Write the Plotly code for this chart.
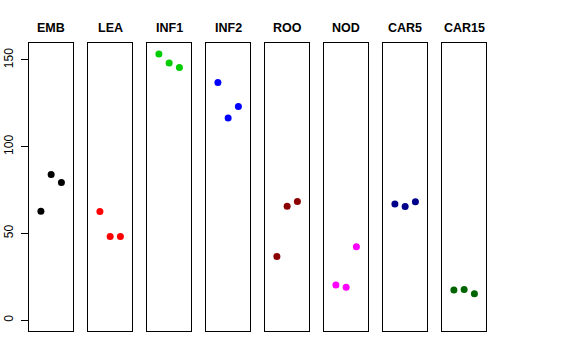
import plotly.graph_objects as go

categories = ["EMB", "LEA", "INF1", "INF2", "ROO", "NOD", "CAR5", "CAR15"]
emb = [62.8, 84.0, 79.4]
lea = [62.6, 48.2, 48.2]
inf1 = [153.5, 148.3, 145.6]
inf2 = [137.0, 116.6, 123.1]
roo = [36.7, 65.7, 68.4]
nod = [20.2, 19.0, 42.3]
car5 = [67.0, 65.5, 68.2]
car15 = [17.3, 17.7, 15.2]
replicates = [1, 2, 3]
y_ticks = [0, 50, 100, 150]

series = [emb, lea, inf1, inf2, roo, nod, car5, car15]
colors = ["#000000", "#FF0000", "#00CD00", "#0000FF", "#8B0000", "#FF00FF", "#00008B", "#006400"]

W, H = 576, 360
left, top, bottom = 29.0, 43.3, 330.7
title_y = 28.0
step, pw = 59.0, 44.3

fig = go.Figure()
layout = dict(
    width=W, height=H,
    margin=dict(l=0, r=0, t=0, b=0, pad=0),
    paper_bgcolor="white", plot_bgcolor="white",
    showlegend=False,
    font=dict(family="Liberation Sans, Arial, sans-serif", color="black"),
    annotations=[],
)
y0 = 1 - bottom / H
y1 = 1 - top / H
for i, (cat, vals, col) in enumerate(zip(categories, series, colors)):
    xa = "x" if i == 0 else f"x{i+1}"
    ya = "y" if i == 0 else f"y{i+1}"
    fig.add_trace(go.Scatter(x=replicates, y=vals, mode="markers",
                             marker=dict(color=col, size=7),
                             xaxis=xa, yaxis=ya, hoverinfo="skip"))
    x0 = (left + i * step) / W
    x1 = (left + i * step + pw) / W
    layout["xaxis" if i == 0 else f"xaxis{i+1}"] = dict(
        domain=[x0, x1], range=[-0.16, 4.16], showgrid=False, zeroline=False,
        showticklabels=False, ticks="", showline=True, mirror=True,
        linecolor="black", linewidth=1, anchor=ya, fixedrange=True,
        automargin=False)
    yax = dict(domain=[y0, y1], range=[-6.1, 159.6], showgrid=False, zeroline=False,
               showline=True, mirror=True, linecolor="black", linewidth=1,
               anchor=xa, fixedrange=True, automargin=False)
    if i == 0:
        yax.update(tickvals=y_ticks, ticktext=[str(v) for v in y_ticks],
                   ticks="outside", ticklen=7, tickcolor="black", tickwidth=1,
                   tickangle=-90, tickfont=dict(size=12, color="black"),
                   ticklabelstandoff=3)
    else:
        yax.update(showticklabels=False, ticks="")
    layout["yaxis" if i == 0 else f"yaxis{i+1}"] = yax
    layout["annotations"].append(dict(
        text=f"<b>{cat}</b>", x=(x0 + x1) / 2, y=1 - title_y / H,
        xref="paper", yref="paper", xanchor="center", yanchor="middle",
        showarrow=False, font=dict(size=12.5, color="black")))

fig.update_layout(**layout)
fig.write_html("out.html", config={"displayModeBar": False},
               post_script="document.body.style.margin='0';document.body.style.overflow='hidden';")
